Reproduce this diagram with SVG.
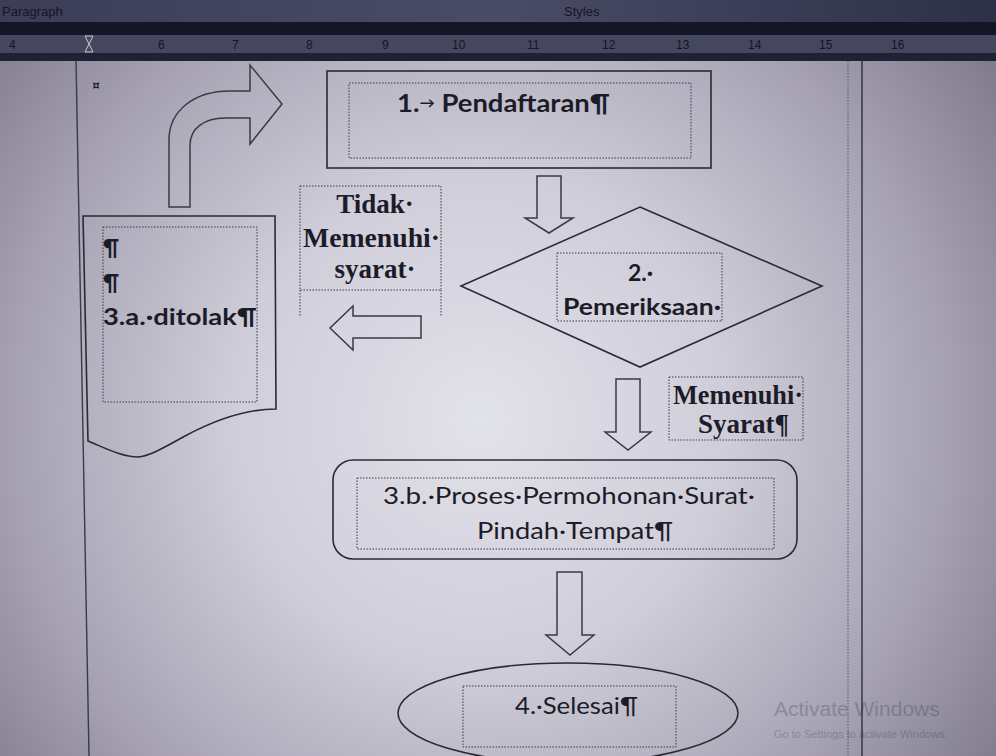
<svg xmlns="http://www.w3.org/2000/svg" width="996" height="756" viewBox="0 0 996 756">
<defs>
<radialGradient id="bg" cx="480" cy="420" r="620" gradientUnits="userSpaceOnUse">
<stop offset="0" stop-color="#e2e2ea"/>
<stop offset="0.4" stop-color="#cfcdd9"/>
<stop offset="0.75" stop-color="#a6a2b3"/>
<stop offset="1" stop-color="#817d8f"/>
</radialGradient>
<linearGradient id="hdr" x1="0" y1="0" x2="1" y2="0">
<stop offset="0" stop-color="#3c3e58"/>
<stop offset="0.5" stop-color="#4a4c66"/>
<stop offset="1" stop-color="#2e3048"/>
</linearGradient>
</defs>
<style>
.shape{fill:none;stroke:#2a2a36;stroke-width:1.6;stroke-linejoin:miter}
.arrow{fill:none;stroke:#3a3a46;stroke-width:1.5}
.dot{fill:none;stroke:#3a3a46;stroke-width:1;stroke-dasharray:1.5 1.5}
.sb{font-family:Lato,"Open Sans","Liberation Sans",sans-serif;font-weight:bold;fill:#1c1c28}
.sr{font-family:Lato,"Open Sans","Liberation Sans",sans-serif;font-weight:normal;fill:#1c1c28}
.se{font-family:"Liberation Serif","DejaVu Serif",serif;font-weight:bold;fill:#1c1c28}
.ui{font-family:"Liberation Sans",Arial,sans-serif;fill:#14152a}
</style>
<rect x="0" y="0" width="996" height="756" fill="url(#bg)"/>
<!-- header / ruler -->
<g id="header">
<rect x="0" y="0" width="996" height="22" fill="url(#hdr)"/>
<rect x="0" y="22" width="996" height="13" fill="#141526"/>
<rect x="0" y="35" width="996" height="18" fill="#45475f"/>
<rect x="0" y="53" width="996" height="8" fill="#1f2136"/>
<text class="ui" x="2" y="16" font-size="13">Paragraph</text>
<text class="ui" x="564" y="16" font-size="13">Styles</text>
<g class="ui" font-size="12">
<text x="9" y="49">4</text><text x="158" y="49">6</text><text x="232" y="49">7</text><text x="306" y="49">8</text>
<text x="382" y="49">9</text><text x="452" y="49">10</text><text x="527" y="49">11</text><text x="602" y="49">12</text>
<text x="676" y="49">13</text><text x="748" y="49">14</text><text x="819" y="49">15</text><text x="891" y="49">16</text>
</g>
<path d="M85,36 h8 l-4,8 l4,8 h-8 l4,-8 z" fill="none" stroke="#c8c8d6" stroke-width="1"/>
</g>
<!-- page lines -->
<g id="page-lines">
<line x1="76" y1="61" x2="89" y2="756" stroke="#3a3a48" stroke-width="1.4"/>
<line x1="848" y1="61" x2="848" y2="756" stroke="#55556a" stroke-width="1" stroke-dasharray="1.5 1.5"/>
<line x1="862" y1="61" x2="862" y2="756" stroke="#2e2e3e" stroke-width="1.4"/>
<text class="sb" x="92" y="90" font-size="14">¤</text>
</g>
<!-- connectors -->
<g id="connectors">
<path id="arrow-back-up" class="arrow" d="M169,207 L169,140 C169,110 195,91 230,91 L250,91 L250,65 L282,104 L250,144 L250,118 L225,118 C205,118 190,128 190,145 L190,207 Z"/>
<path id="arrow-1-2" class="arrow" d="M537,176 L561,176 L561,218 L573,218 L549,233 L525,218 L537,218 Z"/>
<path id="arrow-2-3a" class="arrow" d="M421,316 L421,338 L353,338 L353,350 L330,328 L353,306 L353,316 Z"/>
<path id="arrow-2-3b" class="arrow" d="M616,379 L640,379 L640,432 L651,432 L628,450 L605,432 L616,432 Z"/>
<path id="arrow-3b-4" class="arrow" d="M557,572 L582,572 L582,635 L594,635 L570,655 L546,635 L557,635 Z"/>
</g>
<!-- node 1 -->
<g id="node-pendaftaran">
<rect class="shape" x="327" y="71" width="384" height="97"/>
<rect class="dot" x="349" y="83" width="342" height="75"/>
<text class="sb" x="397" y="112" font-size="25" textLength="213" lengthAdjust="spacingAndGlyphs">1.<tspan font-size="14" dy="-4">→</tspan><tspan dy="4"> Pendaftaran¶</tspan></text>
</g>
<!-- node 2 -->
<g id="node-pemeriksaan">
<polygon class="shape" points="640,207 822,286 640,367 461,286"/>
<rect class="dot" x="557" y="253" width="165" height="68"/>
<text class="sb" x="628" y="281" font-size="23">2.·</text>
<text class="sb" x="563" y="315" font-size="23" textLength="158" lengthAdjust="spacingAndGlyphs">Pemeriksaan·</text>
</g>
<!-- label Tidak memenuhi syarat -->
<g id="label-tidak">
<rect class="dot" x="300" y="186" width="141" height="104"/>
<path class="dot" d="M300,290 V317 M441,290 V317"/>
<text class="se" x="375" y="213" font-size="27" text-anchor="middle">Tidak·</text>
<text class="se" x="303" y="247" font-size="27" textLength="137" lengthAdjust="spacingAndGlyphs">Memenuhi·</text>
<text class="se" x="375" y="278" font-size="27" text-anchor="middle">syarat·</text>
</g>
<!-- node 3a -->
<g id="node-ditolak">
<path class="shape" d="M83,216 L275,216 L276,409 C245,409 215,420 185,436 C165,447 150,456 138,457 C122,457 105,448 88,441 Z"/>
<rect class="dot" x="103" y="227" width="154" height="175"/>
<text class="sb" x="103" y="256" font-size="22">¶</text>
<text class="sb" x="103" y="291" font-size="22">¶</text>
<text class="sb" x="103" y="325" font-size="22" textLength="154" lengthAdjust="spacingAndGlyphs">3.a.·ditolak¶</text>
</g>
<!-- label Memenuhi Syarat -->
<g id="label-memenuhi">
<rect class="dot" x="669" y="377" width="134" height="63"/>
<text class="se" x="673" y="404" font-size="27" textLength="130" lengthAdjust="spacingAndGlyphs">Memenuhi·</text>
<text class="se" x="698" y="433" font-size="27">Syarat¶</text>
</g>
<!-- node 3b -->
<g id="node-proses">
<rect class="shape" x="333" y="460" width="464" height="99" rx="20" ry="20"/>
<rect class="dot" x="357" y="478" width="417" height="71"/>
<text class="sr" x="383" y="504" font-size="23" textLength="372" lengthAdjust="spacingAndGlyphs">3.b.·Proses·Permohonan·Surat·</text>
<text class="sr" x="477" y="539" font-size="23" textLength="196" lengthAdjust="spacingAndGlyphs">Pindah·Tempat¶</text>
</g>
<!-- node 4 -->
<g id="node-selesai">
<ellipse class="shape" cx="568" cy="713" rx="170" ry="50" stroke="#4a4a58"/>
<rect class="dot" x="463" y="686" width="213" height="61"/>
<text class="sr" x="515" y="714" font-size="23" textLength="123" lengthAdjust="spacingAndGlyphs">4.·Selesai¶</text>
</g>
<!-- watermark -->
<g id="watermark" opacity="0.22">
<text class="ui" x="774" y="716" font-size="21" fill="#4a485e">Activate Windows</text>
<text class="ui" x="774" y="738" font-size="11" fill="#4a485e">Go to Settings to activate Windows.</text>
</g>
</svg>
